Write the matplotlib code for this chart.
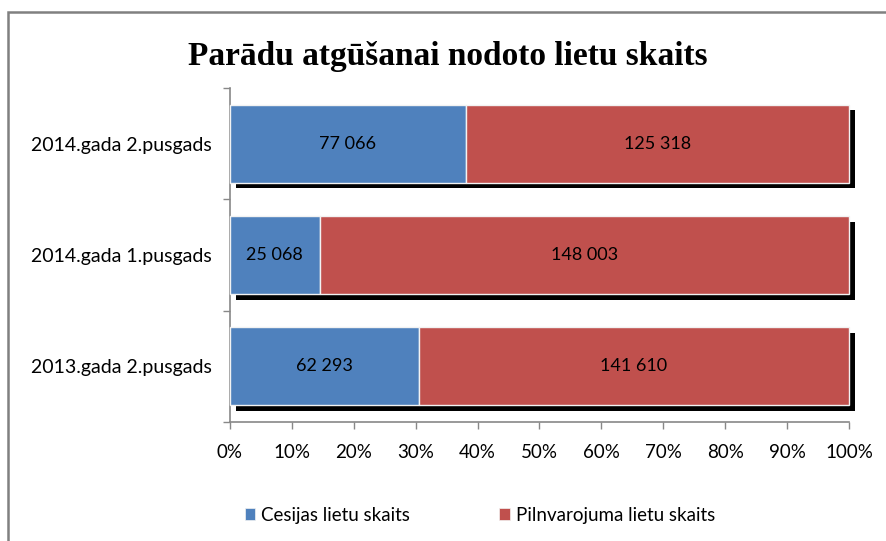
import matplotlib
matplotlib.use("Agg")
import matplotlib.pyplot as plt
import matplotlib.patheffects as pe
from matplotlib.patches import Rectangle, Patch
from matplotlib.ticker import FuncFormatter

categories = ["2013.gada 2.pusgads", "2014.gada 1.pusgads", "2014.gada 2.pusgads"]
cesijas = [62293, 25068, 77066]
pilnvarojuma = [141610, 148003, 125318]
series_names = ["Cesijas lietu skaits", "Pilnvarojuma lietu skaits"]
title = "Parādu atgūšanai nodoto lietu skaits"
colors = ["#4F81BD", "#C0504D"]

W, H = 887, 541
fig = plt.figure(figsize=(W / 100, H / 100), dpi=100)
fig.patch.set_facecolor("white")
fig.patches.append(Rectangle((8.5 / W, -0.05), 1.1, 1 - 11.5 / H + 0.05, transform=fig.transFigure,
                             fill=False, edgecolor="#808080", linewidth=1.8))

ax = fig.add_axes([230 / W, 1 - 422 / H, (849 - 230) / W, (422 - 88) / H])

font = "Lato"
fs = 13.5
totals = [a + b for a, b in zip(cesijas, pilnvarojuma)]
p1 = [a / t for a, t in zip(cesijas, totals)]
p2 = [b / t for b, t in zip(pilnvarojuma, totals)]
ys = list(range(len(categories)))

shadow = [pe.SimplePatchShadow(offset=(4, -4), shadow_rgbFace="black", alpha=1.0), pe.Normal()]
b1 = ax.barh(ys, p1, height=0.7, color=colors[0], edgecolor="#F2F2F2", linewidth=1.0, zorder=3)
b2 = ax.barh(ys, p2, left=p1, height=0.7, color=colors[1], edgecolor="#F2F2F2", linewidth=1.0, zorder=3)
for bar in list(b1) + list(b2):
    bar.set_path_effects(shadow)
    bar.set_clip_on(False)

def fmt(v):
    return f"{v:,}".replace(",", " ")

for y, a, b, pa, pb in zip(ys, cesijas, pilnvarojuma, p1, p2):
    ax.text(pa / 2, y, fmt(a), ha="center", va="center", fontsize=13, family=font, zorder=5)
    ax.text(pa + pb / 2, y, fmt(b), ha="center", va="center", fontsize=13, family=font, zorder=5)

ax.set_xlim(0, 1)
ax.set_ylim(-0.5, len(categories) - 0.5)
ax.set_xticks([i / 10 for i in range(11)])
ax.xaxis.set_major_formatter(FuncFormatter(lambda v, p: f"{v * 100:.0f}%"))
ax.set_yticks(ys)
ax.set_yticklabels(categories)
ax.set_yticks([y - 0.5 for y in ys] + [ys[-1] + 0.5], minor=True)
ax.tick_params(axis="y", which="major", length=0, pad=13, labelsize=14)
ax.tick_params(axis="y", which="minor", length=5, color="#888888", width=1)
ax.tick_params(axis="x", length=5, color="#888888", width=1, labelsize=fs, pad=11)
for lab in ax.get_xticklabels() + ax.get_yticklabels():
    lab.set_family(font)
for s in ["top", "right"]:
    ax.spines[s].set_visible(False)
for s in ["left", "bottom"]:
    ax.spines[s].set_color("#888888")
    ax.spines[s].set_linewidth(1.2)

fig.text(448 / W, 1 - 57 / H, title, ha="center", va="center", fontsize=24, fontweight="bold",
         family="Liberation Serif")

handles = [Patch(facecolor=c, edgecolor="#F2F2F2", linewidth=0.5) for c in colors]
leg = fig.legend(handles=handles, labels=series_names, loc="center", bbox_to_anchor=(480 / W, 1 - 515 / H),
                 ncol=2, frameon=False, prop={"family": font, "size": fs}, handlelength=0.55,
                 handleheight=0.55, columnspacing=4.75, handletextpad=0.35)

fig.savefig("out.png", dpi=100)
